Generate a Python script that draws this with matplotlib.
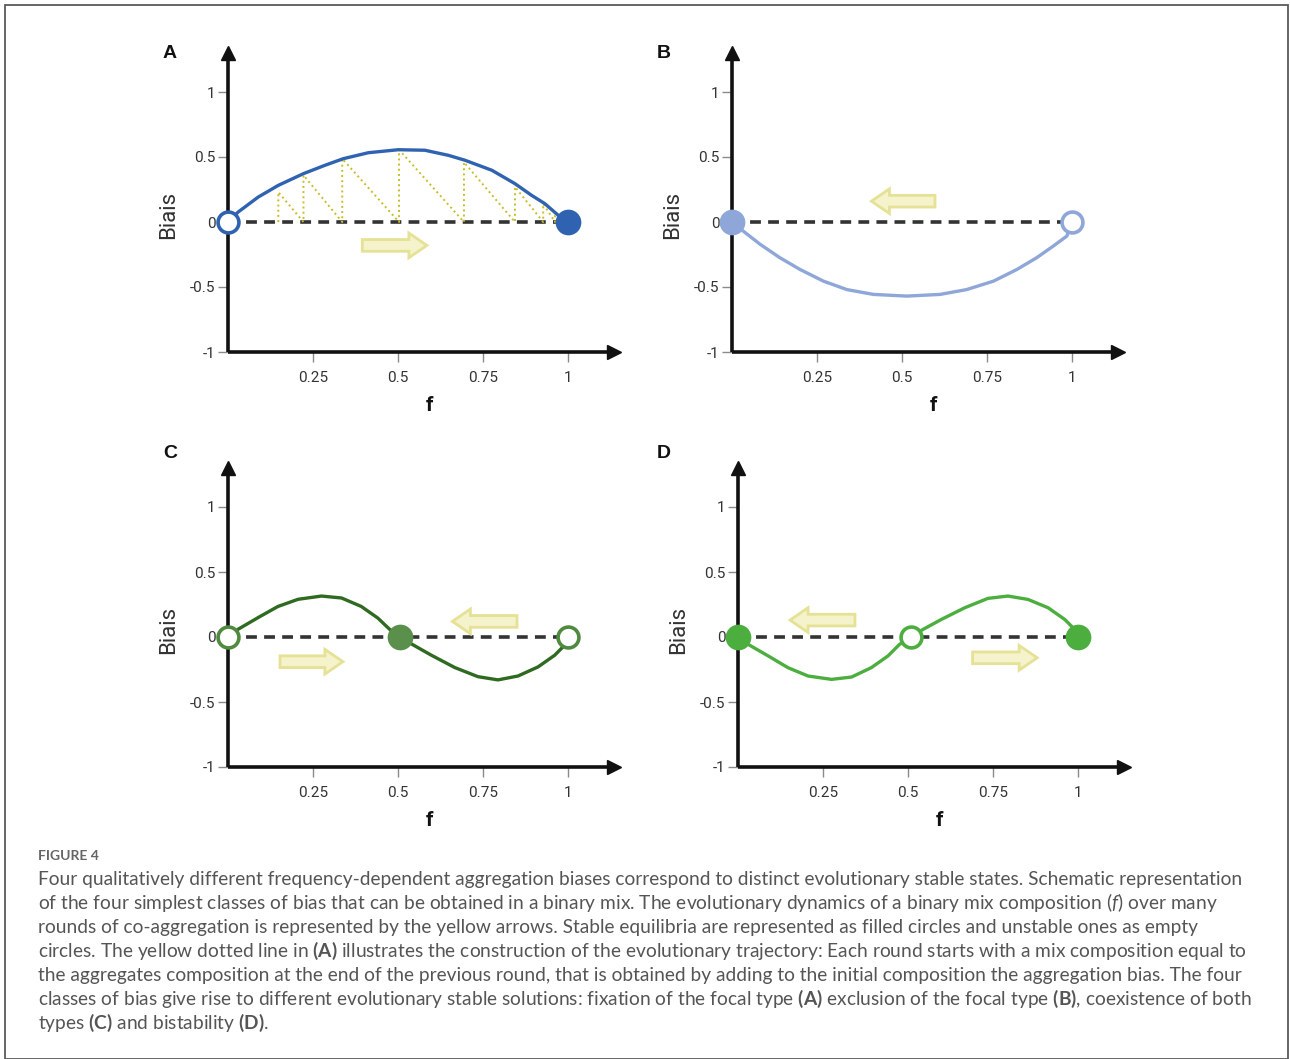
import matplotlib
matplotlib.use("Agg")
import matplotlib.pyplot as plt
from matplotlib.patches import FancyArrow, Rectangle

# figure is 1290 x 1059 px
W, H = 1290, 1059

plt.rcParams['mathtext.fontset'] = 'custom'
plt.rcParams['mathtext.rm'] = 'Lato'
plt.rcParams['mathtext.it'] = 'Lato:italic'
plt.rcParams['mathtext.bf'] = 'Lato:bold'

# ---- data ----
x_ticks = [0.25, 0.5, 0.75, 1]
x_tick_labels = ['0.25', '0.5', '0.75', '1']
y_ticks = [1, 0.5, 0, -0.5, -1]
y_tick_labels = ['1', '0.5', '0', '-0.5', '-1']

# A: fixation of focal type
f_a = [0, 0.03, 0.089, 0.148, 0.222, 0.285, 0.339, 0.413, 0.501, 0.579, 0.648, 0.697,
       0.776, 0.844, 0.893, 0.932, 0.971, 1.0]
bias_a = [0, 0.077, 0.192, 0.282, 0.372, 0.436, 0.487, 0.533, 0.556, 0.552, 0.513, 0.475,
          0.398, 0.295, 0.205, 0.141, 0.052, 0]
# cobweb construction (yellow dotted)
cob_f = [0.148, 0.222, 0.336, 0.503, 0.694, 0.844, 0.927, 0.962, 0.99]
cob_bias = [0.23, 0.36, 0.487, 0.556, 0.46, 0.27, 0.14, 0.05, 0.0]

# B: exclusion of focal type
f_b = [0, 0.033, 0.082, 0.141, 0.2, 0.269, 0.338, 0.416, 0.514, 0.612, 0.69, 0.769,
       0.838, 0.896, 0.945, 0.985, 1.0]
bias_b = [0, -0.07, -0.17, -0.275, -0.365, -0.455, -0.52, -0.557, -0.57, -0.557, -0.52,
          -0.455, -0.365, -0.275, -0.185, -0.108, 0]

# C: coexistence
f_c = [0, 0.03, 0.089, 0.147, 0.206, 0.275, 0.334, 0.392, 0.441, 0.475, 0.505, 0.544,
       0.598, 0.667, 0.735, 0.794, 0.853, 0.912, 0.961, 0.995, 1.0]
bias_c = [0, 0.06, 0.15, 0.235, 0.29, 0.315, 0.3, 0.235, 0.145, 0.06, 0, -0.06,
          -0.14, -0.235, -0.305, -0.33, -0.3, -0.23, -0.14, -0.05, 0]

# D: bistability
f_d = [0, 0.03, 0.089, 0.147, 0.206, 0.275, 0.334, 0.392, 0.441, 0.475, 0.508, 0.544,
       0.598, 0.667, 0.735, 0.794, 0.853, 0.912, 0.961, 0.995, 1.0]
bias_d = [0, -0.057, -0.146, -0.236, -0.3, -0.326, -0.308, -0.236, -0.146, -0.057, 0,
          0.058, 0.135, 0.225, 0.297, 0.315, 0.289, 0.225, 0.135, 0.046, 0]

# equilibria: (f, stable?)
eq_a = [(0, False), (1, True)]
eq_b = [(0, True), (1, False)]
eq_c = [(0, False), (0.505, True), (1, False)]
eq_d = [(0, True), (0.508, False), (1, True)]

# yellow arrows: (f start, f end, bias level)
arr_a = [(0.395, 0.585, -0.18)]
arr_b = [(0.597, 0.41, 0.16)]
arr_c = [(0.153, 0.338, -0.19), (0.85, 0.66, 0.12)]
arr_d = [(0.344, 0.153, 0.13), (0.69, 0.88, -0.16)]

panels = [
    # letter, origin px, letter px, curve, eq, arrows, line color, fill color, edge color
    ('A', (228, 352), (170, 53), f_a, bias_a, eq_a, arr_a, '#2f62b0', '#2f62b0', '#2f62b0'),
    ('B', (732, 352), (664, 53), f_b, bias_b, eq_b, arr_b, '#8ea6d8', '#8ea6d8', '#8ea6d8'),
    ('C', (228, 767), (170, 453), f_c, bias_c, eq_c, arr_c, '#2e6a1f', '#5a8f4c', '#4f8a3e'),
    ('D', (738, 767), (664, 453), f_d, bias_d, eq_d, arr_d, '#4cae3f', '#4cae3f', '#4cae3f'),
]

fig = plt.figure(figsize=(W / 100, H / 100), dpi=100)

# outer frame
fig.add_artist(Rectangle((4.5 / W, 0.0), (1288 - 4.5) / W, 1 - 5 / H, transform=fig.transFigure,
                         fill=False, ec='#5a5a5a', lw=1.3))

xpx, ypx = 340, 130  # px per unit
aw, ah = 386, 299     # axes size in px (to arrow head centres)
xmax = aw / xpx
ymax = ah / ypx - 1

for letter, (ox, oy), (lx, ly), fx, by, eqs, arrs, lc, fc, ec in panels:
    ax = fig.add_axes([ox / W, 1 - oy / H, aw / W, ah / H])
    ax.set_xlim(0, xmax)
    ax.set_ylim(-1, ymax)
    ax.patch.set_alpha(0)
    for s in ['top', 'right']:
        ax.spines[s].set_visible(False)
    for s in ['left', 'bottom']:
        ax.spines[s].set_linewidth(2.6)
        ax.spines[s].set_color('#111111')
        ax.spines[s].set_capstyle('butt')
    # arrow heads on axes
    ax.plot(1, 0, '>', color='#111111', ms=10, transform=ax.transAxes, clip_on=False)
    ax.plot(0, 1, '^', color='#111111', ms=10, transform=ax.transAxes, clip_on=False)

    ax.set_xticks(x_ticks)
    ax.set_xticklabels(x_tick_labels)
    ax.set_yticks(y_ticks)
    ax.set_yticklabels(y_tick_labels)
    ax.tick_params(axis='both', direction='out', length=7, width=1, color='#8a8a8a',
                   labelsize=11, labelcolor='#333333')
    ax.tick_params(axis='x', pad=7)
    ax.tick_params(axis='y', pad=2)
    for t in ax.get_xticklabels() + ax.get_yticklabels():
        t.set_fontfamily('Roboto')

    ax.set_ylabel('Biais', fontsize=16, color='#333333', family='Roboto')
    ax.yaxis.set_label_coords(-49 / aw, 137 / ah)
    ax.set_xlabel('f', fontsize=15, fontweight='bold', color='#111111', family='Roboto')
    ax.xaxis.set_label_coords(202 / aw, -44 / ah)

    # zero line
    ax.plot([0, 1], [0, 0], color='#333333', lw=2.6, dashes=(3, 2), zorder=2)

    if letter == 'A':
        zx, zy = [], []
        for i in range(len(cob_f) - 1):
            zx += [cob_f[i], cob_f[i], cob_f[i + 1]]
            zy += [0, cob_bias[i], 0]
        ax.plot(zx, zy, color='#c8bd28', lw=1.4, ls=':', zorder=2)

    for x0, x1, yy in arrs:
        ax.add_patch(FancyArrow(x0, yy, x1 - x0, 0, width=0.09, head_width=0.19, head_length=0.053,
                                length_includes_head=True, fc='#f5f3cc', ec='#e5e195', lw=2, zorder=2))

    ax.plot(fx, by, color=lc, lw=2.4, zorder=3, solid_capstyle='round', solid_joinstyle='round')

    for fe, stable in eqs:
        if stable:
            ax.plot(fe, 0, 'o', ms=16, mfc=fc, mec=fc, mew=2.5, zorder=5, clip_on=False)
        else:
            ax.plot(fe, 0, 'o', ms=15, mfc='white', mec=ec, mew=2.6, zorder=5, clip_on=False)

    fig.text(lx / W, 1 - ly / H, letter, fontsize=14, fontweight='bold',
             family='Liberation Sans', ha='center', va='center', color='#111111')

# caption
fig.text(38 / W, 1 - 856 / H, 'FIGURE 4', fontsize=10, color='#666666', family='Lato',
         fontweight='bold', va='center', ha='left')

caption_lines = [
    'Four qualitatively different frequency-dependent aggregation biases correspond to distinct evolutionary stable states. Schematic representation',
    'of the four simplest classes of bias that can be obtained in a binary mix. The evolutionary dynamics of a binary mix composition ($\\mathit{f}$) over many',
    'rounds of co-aggregation is represented by the yellow arrows. Stable equilibria are represented as filled circles and unstable ones as empty',
    'circles. The yellow dotted line in $\\mathbf{(A)}$ illustrates the construction of the evolutionary trajectory: Each round starts with a mix composition equal to',
    'the aggregates composition at the end of the previous round, that is obtained by adding to the initial composition the aggregation bias. The four',
    'classes of bias give rise to different evolutionary stable solutions: fixation of the focal type $\\mathbf{(A)}$ exclusion of the focal type $\\mathbf{(B)}$, coexistence of both',
    'types $\\mathbf{(C)}$ and bistability $\\mathbf{(D)}$.',
]
for i, line in enumerate(caption_lines):
    fig.text(38 / W, 1 - (879 + 24 * i) / H, line, fontsize=13.8, color='#555555', family='Lato',
             va='center', ha='left')

fig.savefig('out.png', dpi=100)
